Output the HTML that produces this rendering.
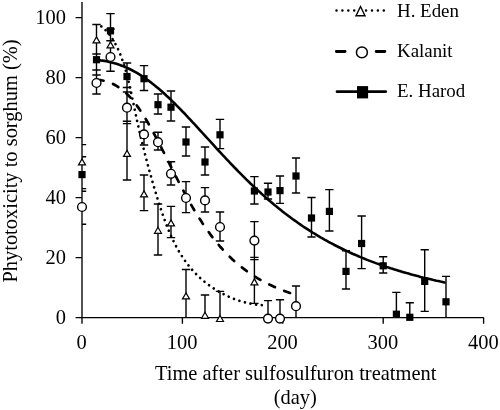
<!DOCTYPE html>
<html lang="en"><head><meta charset="utf-8"><title>Phytotoxicity to sorghum</title>
<style>html,body{margin:0;padding:0;background:#fff}svg{display:block}</style></head>
<body>
<svg width="500" height="410" viewBox="0 0 500 410">
<rect width="500" height="410" fill="#fff"/>
<path d="M96.5,59.9 L98.5,60.1 L100.5,60.4 L102.5,60.6 L104.5,60.9 L106.5,61.3 L108.5,61.7 L110.5,62.2 L112.5,62.7 L114.5,63.2 L116.5,63.8 L118.5,64.4 L120.5,65.2 L122.5,65.9 L124.5,66.7 L126.5,67.6 L128.5,68.5 L130.5,69.5 L132.5,70.5 L134.5,71.6 L136.5,72.7 L138.5,73.9 L140.5,75.1 L142.5,76.4 L144.5,77.8 L146.5,79.2 L148.5,80.6 L150.5,82.1 L152.5,83.7 L154.5,85.2 L156.5,86.9 L158.5,88.6 L160.5,90.3 L162.5,92.0 L164.5,93.8 L166.5,95.7 L168.5,97.5 L170.5,99.4 L172.5,101.4 L174.5,103.3 L176.5,105.3 L178.5,107.3 L180.5,109.4 L182.5,111.5 L184.5,113.5 L186.5,115.7 L188.5,117.8 L190.5,119.9 L192.5,122.1 L194.5,124.2 L196.5,126.4 L198.5,128.6 L200.5,130.8 L202.5,133.0 L204.5,135.2 L206.5,137.3 L208.5,139.5 L210.5,141.7 L212.5,143.9 L214.5,146.1 L216.5,148.3 L218.5,150.5 L220.5,152.6 L222.5,154.8 L224.5,156.9 L226.5,159.1 L228.5,161.2 L230.5,163.3 L232.5,165.4 L234.5,167.5 L236.5,169.5 L238.5,171.6 L240.5,173.6 L242.5,175.6 L244.5,177.6 L246.5,179.6 L248.5,181.5 L250.5,183.5 L252.5,185.4 L254.5,187.3 L256.5,189.1 L258.5,191.0 L260.5,192.8 L262.5,194.6 L264.5,196.4 L266.5,198.2 L268.5,199.9 L270.5,201.6 L272.5,203.3 L274.5,205.0 L276.5,206.6 L278.5,208.2 L280.5,209.8 L282.5,211.4 L284.5,213.0 L286.5,214.5 L288.5,216.0 L290.5,217.5 L292.5,219.0 L294.5,220.4 L296.5,221.8 L298.5,223.2 L300.5,224.6 L302.5,226.0 L304.5,227.3 L306.5,228.6 L308.5,229.9 L310.5,231.2 L312.5,232.5 L314.5,233.7 L316.5,234.9 L318.5,236.1 L320.5,237.3 L322.5,238.4 L324.5,239.6 L326.5,240.7 L328.5,241.8 L330.5,242.9 L332.5,243.9 L334.5,245.0 L336.5,246.0 L338.5,247.0 L340.5,248.0 L342.5,249.0 L344.5,250.0 L346.5,250.9 L348.5,251.8 L350.5,252.8 L352.5,253.7 L354.5,254.5 L356.5,255.4 L358.5,256.3 L360.5,257.1 L362.5,257.9 L364.5,258.8 L366.5,259.6 L368.5,260.4 L370.5,261.1 L372.5,261.9 L374.5,262.6 L376.5,263.4 L378.5,264.1 L380.5,264.8 L382.5,265.5 L384.5,266.2 L386.5,266.9 L388.5,267.5 L390.5,268.2 L392.5,268.8 L394.5,269.5 L396.5,270.1 L398.5,270.7 L400.5,271.3 L402.5,271.9 L404.5,272.5 L406.5,273.1 L408.5,273.6 L410.5,274.2 L412.5,274.8 L414.5,275.3 L416.5,275.8 L418.5,276.3 L420.5,276.9 L422.5,277.4 L424.5,277.9 L426.5,278.3 L428.5,278.8 L430.5,279.3 L432.5,279.8 L434.5,280.2 L436.5,280.7 L438.5,281.1 L440.5,281.6 L442.5,282.0 L444.5,282.4" fill="none" stroke="#000" stroke-width="2.6" stroke-linecap="round"/>
<path d="M96.5,79.6 L98.5,79.9 L100.5,80.1 L102.5,80.5 L104.5,80.9 L106.5,81.5 L108.5,82.1 L110.5,82.9 L112.5,83.7 L114.5,84.7 L116.5,85.8 L118.5,87.1 L120.5,88.5 L122.5,90.0 L124.5,91.7 L126.5,93.5 L128.5,95.5 L130.5,97.7 L132.5,100.0 L134.5,102.5 L136.5,105.1 L138.5,107.9 L140.5,110.8 L142.5,113.8 L144.5,117.0 L146.5,120.3 L148.5,123.7 L150.5,127.3 L152.5,130.9 L154.5,134.6 L156.5,138.3 L158.5,142.2 L160.5,146.0 L162.5,150.0 L164.5,153.9 L166.5,157.9 L168.5,161.8 L170.5,165.8 L172.5,169.8 L174.5,173.7 L176.5,177.6 L178.5,181.5 L180.5,185.3 L182.5,189.1 L184.5,192.8 L186.5,196.5 L188.5,200.1 L190.5,203.6 L192.5,207.1 L194.5,210.5 L196.5,213.8 L198.5,217.0 L200.5,220.1 L202.5,223.2 L204.5,226.1 L206.5,229.0 L208.5,231.8 L210.5,234.6 L212.5,237.2 L214.5,239.8 L216.5,242.2 L218.5,244.6 L220.5,247.0 L222.5,249.2 L224.5,251.4 L226.5,253.5 L228.5,255.5 L230.5,257.5 L232.5,259.4 L234.5,261.2 L236.5,263.0 L238.5,264.7 L240.5,266.3 L242.5,267.9 L244.5,269.4 L246.5,270.9 L248.5,272.3 L250.5,273.7 L252.5,275.1 L254.5,276.3 L256.5,277.6 L258.5,278.8 L260.5,279.9 L262.5,281.0 L264.5,282.1 L266.5,283.1 L268.5,284.1 L270.5,285.1 L272.5,286.0 L274.5,286.9 L276.5,287.8 L278.5,288.6 L280.5,289.5 L282.5,290.2 L284.5,291.0 L286.5,291.7 L288.5,292.4 L290.5,293.1 L292.5,293.8" fill="none" stroke="#000" stroke-width="2.7" stroke-linecap="round" stroke-dasharray="6.2 10.0" stroke-dashoffset="15.26"/>
<path d="M97.2,23.4 L99.4,24.9 L101.4,26.4 L103.3,27.9 L105.0,29.6 L106.7,31.4 L108.3,33.2 L109.9,35.1 L111.3,37.1 L112.6,39.1 L113.9,41.2 L115.1,43.4 L116.3,45.5 L117.4,47.8 L118.4,50.0 L119.4,52.3 L120.4,54.6 L121.3,56.9 L122.1,59.3 L122.9,61.6 L123.7,64.0 L124.5,66.4 L125.2,68.8 L125.9,71.2 L126.6,73.6 L127.3,76.1 L127.9,78.5 L128.5,81.0 L129.1,83.4 L129.6,85.9 L130.2,88.3 L130.7,90.8 L131.3,93.3 L131.8,95.8 L132.3,98.3 L132.8,100.7 L133.4,103.2 L133.9,105.7 L134.4,108.2 L134.9,110.7 L135.4,113.1 L136.0,115.6 L136.5,118.1 L137.0,120.5 L137.6,123.0 L138.1,125.4 L138.7,127.9 L139.2,130.3 L139.8,132.7 L140.4,135.2 L140.9,137.6 L141.5,140.0 L142.1,142.5 L142.7,144.9 L143.3,147.3 L143.9,149.7 L144.5,152.2 L145.1,154.6 L145.7,157.0 L146.4,159.4 L147.0,161.8 L147.6,164.2 L148.3,166.7 L148.9,169.1 L149.6,171.5 L150.3,173.9 L151.0,176.3 L151.6,178.7 L152.3,181.1 L153.0,183.5 L153.7,185.9 L154.4,188.4 L155.1,190.8 L155.9,193.2 L156.6,195.6 L157.3,198.0 L158.1,200.4 L158.8,202.8 L159.6,205.2 L160.4,207.6 L161.2,210.1 L162.0,212.5 L162.8,214.9 L163.6,217.2 L164.5,219.6 L165.4,222.0 L166.3,224.4 L167.2,226.7 L168.1,229.1 L169.1,231.4 L170.1,233.7 L171.1,236.0 L172.1,238.3 L173.2,240.5 L174.3,242.8 L175.4,245.0 L176.6,247.2 L177.8,249.4 L179.0,251.5 L180.3,253.6 L181.6,255.7 L183.0,257.8 L184.4,259.9 L185.8,261.9 L187.3,263.9 L188.8,265.8 L190.4,267.7 L192.0,269.6 L193.6,271.5 L195.4,273.3 L197.1,275.1 L198.9,276.8 L200.8,278.5 L202.7,280.2 L204.6,281.8 L206.6,283.3 L208.6,284.9 L210.6,286.3 L212.7,287.8 L214.8,289.2 L217.0,290.5 L219.1,291.8 L221.3,293.0 L223.6,294.2 L225.8,295.4 L228.1,296.4 L230.4,297.5 L232.8,298.4 L235.1,299.3 L237.5,300.2 L239.9,301.0 L242.3,301.7 L244.7,302.3 L247.1,302.9 L249.6,303.5 L252.0,303.9 L254.5,304.4 L257.0,304.7 L259.5,304.9 L262.0,305.1" fill="none" stroke="#000" stroke-width="2.7" stroke-linecap="round" stroke-dasharray="0.01 5.71" stroke-dashoffset="0.65"/>
<path d="M96.5,24.5 V94.0 M92.3,24.5 H100.7 M92.3,54.0 H100.7 M92.3,70.0 H100.7 M92.3,75.0 H100.7 M92.3,94.0 H100.7 M110.5,13.6 V71.2 M106.3,13.6 H114.7 M106.3,29.0 H114.7 M106.3,40.8 H114.7 M106.3,71.2 H114.7 M127.0,63.0 V180.0 M122.8,63.0 H131.2 M122.8,87.5 H131.2 M122.8,92.0 H131.2 M122.8,121.2 H131.2 M122.8,123.6 H131.2 M122.8,180.0 H131.2 M144.0,65.6 V90.5 M144.0,122.0 V145.0 M144.0,175.0 V210.6 M139.8,65.6 H148.2 M139.8,90.5 H148.2 M139.8,122.0 H148.2 M139.8,145.0 H148.2 M139.8,175.0 H148.2 M139.8,210.6 H148.2 M158.0,94.0 V114.0 M158.0,132.2 V150.0 M158.0,204.0 V255.0 M153.8,94.0 H162.2 M153.8,114.0 H162.2 M153.8,132.2 H162.2 M153.8,150.0 H162.2 M153.8,204.0 H162.2 M153.8,255.0 H162.2 M171.0,91.0 V121.0 M171.0,161.8 V185.0 M171.0,206.4 V237.6 M166.8,91.0 H175.2 M166.8,121.0 H175.2 M166.8,161.8 H175.2 M166.8,185.0 H175.2 M166.8,206.4 H175.2 M166.8,237.6 H175.2 M186.0,127.0 V156.0 M186.0,181.6 V212.6 M186.0,269.5 V317.6 M181.8,127.0 H190.2 M181.8,156.0 H190.2 M181.8,181.6 H190.2 M181.8,212.6 H190.2 M181.8,269.5 H190.2 M205.0,147.0 V175.0 M205.0,187.6 V212.0 M205.0,295.0 V317.6 M200.8,147.0 H209.2 M200.8,175.0 H209.2 M200.8,187.6 H209.2 M200.8,212.0 H209.2 M200.8,295.0 H209.2 M220.0,119.4 V148.6 M220.0,212.0 V241.0 M220.0,291.4 V317.6 M215.8,119.4 H224.2 M215.8,148.6 H224.2 M215.8,212.0 H224.2 M215.8,241.0 H224.2 M215.8,291.4 H224.2 M254.4,176.6 V204.0 M254.4,221.6 V303.4 M250.2,176.6 H258.6 M250.2,204.0 H258.6 M250.2,221.6 H258.6 M250.2,257.4 H258.6 M250.2,259.6 H258.6 M250.2,303.4 H258.6 M268.0,183.3 V199.0 M268.0,300.6 V317.6 M263.9,183.3 H272.1 M263.9,199.0 H272.1 M263.9,300.6 H272.1 M280.0,176.0 V203.4 M280.0,299.8 V317.6 M275.9,176.0 H284.1 M275.9,203.4 H284.1 M275.9,299.8 H284.1 M296.0,158.0 V193.0 M296.0,286.0 V317.6 M291.9,158.0 H300.1 M291.9,193.0 H300.1 M291.9,286.0 H300.1 M311.5,197.5 V237.0 M307.4,197.5 H315.6 M307.4,237.0 H315.6 M329.4,189.6 V231.0 M325.2,189.6 H333.5 M325.2,231.0 H333.5 M346.0,250.8 V289.0 M341.9,250.8 H350.1 M341.9,289.0 H350.1 M361.6,216.0 V268.6 M357.5,216.0 H365.8 M357.5,268.6 H365.8 M383.2,256.7 V273.0 M379.1,256.7 H387.3 M379.1,273.0 H387.3 M396.4,292.4 V317.6 M392.2,292.4 H400.5 M409.8,302.7 V317.6 M405.7,302.7 H413.9 M424.7,249.8 V311.4 M420.6,249.8 H428.8 M420.6,311.4 H428.8 M446.0,276.4 V317.6 M441.9,276.4 H450.1 M82,144.6 H86.2 M82,156.7 H86.2 M82,188.6 H86.2 M82,191.3 H86.2 M82,224.3 H86.2" fill="none" stroke="#000" stroke-width="1.4"/>
<path d="M82.0,2 V317.6 H483.7 M75.6,317.6 H82.0 M75.6,257.6 H82.0 M75.6,197.6 H82.0 M75.6,137.6 H82.0 M75.6,77.6 H82.0 M75.6,17.6 H82.0 M82.0,317.6 V323.8 M182.4,317.6 V323.8 M282.8,317.6 V323.8 M383.2,317.6 V323.8 M483.6,317.6 V323.8" fill="none" stroke="#000" stroke-width="1.35"/>
<path d="M96.5,36.9 L100.0,42.9 L93.0,42.9 Z" fill="#fff" stroke="#000" stroke-width="1.2" stroke-linejoin="miter"/>
<rect x="92.9" y="56.1" width="7.2" height="7.2" fill="#000"/>
<circle cx="96.5" cy="83.0" r="4.4" fill="#fff" stroke="#000" stroke-width="1.4"/>
<rect x="106.9" y="27.2" width="7.2" height="7.2" fill="#000"/>
<path d="M110.5,41.9 L114.0,47.9 L107.0,47.9 Z" fill="#fff" stroke="#000" stroke-width="1.2" stroke-linejoin="miter"/>
<circle cx="110.5" cy="57.0" r="4.4" fill="#fff" stroke="#000" stroke-width="1.4"/>
<rect x="123.4" y="72.9" width="7.2" height="7.2" fill="#000"/>
<circle cx="127.0" cy="107.7" r="4.4" fill="#fff" stroke="#000" stroke-width="1.4"/>
<path d="M127.0,150.4 L130.5,156.4 L123.5,156.4 Z" fill="#fff" stroke="#000" stroke-width="1.2" stroke-linejoin="miter"/>
<rect x="140.4" y="75.1" width="7.2" height="7.2" fill="#000"/>
<circle cx="144.0" cy="134.4" r="4.4" fill="#fff" stroke="#000" stroke-width="1.4"/>
<path d="M144.0,190.9 L147.5,196.9 L140.5,196.9 Z" fill="#fff" stroke="#000" stroke-width="1.2" stroke-linejoin="miter"/>
<rect x="154.4" y="101.1" width="7.2" height="7.2" fill="#000"/>
<circle cx="158.0" cy="142.2" r="4.4" fill="#fff" stroke="#000" stroke-width="1.4"/>
<path d="M158.0,227.3 L161.5,233.3 L154.5,233.3 Z" fill="#fff" stroke="#000" stroke-width="1.2" stroke-linejoin="miter"/>
<rect x="167.4" y="103.6" width="7.2" height="7.2" fill="#000"/>
<circle cx="171.0" cy="173.8" r="4.4" fill="#fff" stroke="#000" stroke-width="1.4"/>
<path d="M171.0,219.9 L174.5,225.9 L167.5,225.9 Z" fill="#fff" stroke="#000" stroke-width="1.2" stroke-linejoin="miter"/>
<rect x="182.4" y="138.4" width="7.2" height="7.2" fill="#000"/>
<circle cx="186.0" cy="198.0" r="4.4" fill="#fff" stroke="#000" stroke-width="1.4"/>
<path d="M186.0,292.9 L189.5,298.9 L182.5,298.9 Z" fill="#fff" stroke="#000" stroke-width="1.2" stroke-linejoin="miter"/>
<rect x="201.4" y="158.4" width="7.2" height="7.2" fill="#000"/>
<circle cx="205.0" cy="200.4" r="4.4" fill="#fff" stroke="#000" stroke-width="1.4"/>
<path d="M205.0,312.3 L208.5,318.3 L201.5,318.3 Z" fill="#fff" stroke="#000" stroke-width="1.2" stroke-linejoin="miter"/>
<rect x="216.4" y="131.2" width="7.2" height="7.2" fill="#000"/>
<circle cx="220.0" cy="227.0" r="4.4" fill="#fff" stroke="#000" stroke-width="1.4"/>
<path d="M220.0,315.5 L223.5,321.5 L216.5,321.5 Z" fill="#fff" stroke="#000" stroke-width="1.2" stroke-linejoin="miter"/>
<rect x="250.8" y="187.4" width="7.2" height="7.2" fill="#000"/>
<circle cx="254.4" cy="240.6" r="4.4" fill="#fff" stroke="#000" stroke-width="1.4"/>
<path d="M254.4,278.9 L257.9,284.9 L250.9,284.9 Z" fill="#fff" stroke="#000" stroke-width="1.2" stroke-linejoin="miter"/>
<rect x="264.4" y="188.4" width="7.2" height="7.2" fill="#000"/>
<circle cx="268.0" cy="318.6" r="4.4" fill="#fff" stroke="#000" stroke-width="1.4"/>
<rect x="276.4" y="187.0" width="7.2" height="7.2" fill="#000"/>
<circle cx="280.0" cy="318.6" r="4.4" fill="#fff" stroke="#000" stroke-width="1.4"/>
<rect x="292.4" y="172.4" width="7.2" height="7.2" fill="#000"/>
<circle cx="296.0" cy="306.2" r="4.4" fill="#fff" stroke="#000" stroke-width="1.4"/>
<rect x="307.9" y="214.4" width="7.2" height="7.2" fill="#000"/>
<rect x="325.8" y="207.8" width="7.2" height="7.2" fill="#000"/>
<rect x="342.4" y="267.8" width="7.2" height="7.2" fill="#000"/>
<rect x="358.0" y="239.9" width="7.2" height="7.2" fill="#000"/>
<rect x="379.6" y="262.2" width="7.2" height="7.2" fill="#000"/>
<rect x="392.8" y="310.6" width="7.2" height="7.2" fill="#000"/>
<rect x="406.2" y="313.7" width="7.2" height="7.2" fill="#000"/>
<rect x="421.1" y="277.8" width="7.2" height="7.2" fill="#000"/>
<rect x="442.4" y="298.2" width="7.2" height="7.2" fill="#000"/>
<path d="M82.0,158.9 L85.5,164.9 L78.5,164.9 Z" fill="#fff" stroke="#000" stroke-width="1.2" stroke-linejoin="miter"/>
<rect x="78.4" y="171.0" width="7.2" height="7.2" fill="#000"/>
<circle cx="82.0" cy="207.0" r="4.4" fill="#fff" stroke="#000" stroke-width="1.4"/>
<text x="66" y="324.2" text-anchor="end" font-family="Liberation Serif, Times New Roman, serif" font-size="20.45px" fill="#000">0</text>
<text x="66" y="264.2" text-anchor="end" font-family="Liberation Serif, Times New Roman, serif" font-size="20.45px" fill="#000">20</text>
<text x="66" y="204.2" text-anchor="end" font-family="Liberation Serif, Times New Roman, serif" font-size="20.45px" fill="#000">40</text>
<text x="66" y="144.2" text-anchor="end" font-family="Liberation Serif, Times New Roman, serif" font-size="20.45px" fill="#000">60</text>
<text x="66" y="84.2" text-anchor="end" font-family="Liberation Serif, Times New Roman, serif" font-size="20.45px" fill="#000">80</text>
<text x="66" y="24.2" text-anchor="end" font-family="Liberation Serif, Times New Roman, serif" font-size="20.45px" fill="#000">100</text>
<text x="81.7" y="348.8" text-anchor="middle" font-family="Liberation Serif, Times New Roman, serif" font-size="20.45px" fill="#000">0</text>
<text x="182.1" y="348.8" text-anchor="middle" font-family="Liberation Serif, Times New Roman, serif" font-size="20.45px" fill="#000">100</text>
<text x="282.5" y="348.8" text-anchor="middle" font-family="Liberation Serif, Times New Roman, serif" font-size="20.45px" fill="#000">200</text>
<text x="382.9" y="348.8" text-anchor="middle" font-family="Liberation Serif, Times New Roman, serif" font-size="20.45px" fill="#000">300</text>
<text x="483.3" y="348.8" text-anchor="middle" font-family="Liberation Serif, Times New Roman, serif" font-size="20.45px" fill="#000">400</text>
<text x="295.7" y="380.0" text-anchor="middle" font-family="Liberation Serif, Times New Roman, serif" font-size="20.45px" fill="#000">Time after sulfosulfuron treatment</text>
<text x="295.2" y="403.6" text-anchor="middle" font-family="Liberation Serif, Times New Roman, serif" font-size="20.45px" fill="#000">(day)</text>
<text transform="translate(16.7,161) rotate(-90)" text-anchor="middle" font-family="Liberation Serif, Times New Roman, serif" font-size="20.45px" fill="#000">Phytotoxicity to sorghum (%)</text>
<path d="M336.5,10.6 H384.5" fill="none" stroke="#000" stroke-width="2.5" stroke-linecap="round" stroke-dasharray="0.01 5.9"/>
<path d="M360.5,6.5 L365.0,15.7 L356.0,15.7 Z" fill="#fff" stroke="#000" stroke-width="1.4" stroke-linejoin="miter"/>
<path d="M336.3,51.5 H345.1 M376.2,51.5 H384.9" fill="none" stroke="#000" stroke-width="2.8" stroke-linecap="round"/>
<circle cx="361.9" cy="52.4" r="5.45" fill="#fff" stroke="#000" stroke-width="1.5"/>
<path d="M337.0,91.7 H385.7" fill="none" stroke="#000" stroke-width="2.7" stroke-linecap="round"/>
<rect x="357.0" y="86.1" width="11.1" height="12.3" fill="#000"/>
<text x="397.0" y="17.3" font-family="Liberation Serif, Times New Roman, serif" font-size="18.9px" fill="#000">H. Eden</text>
<text x="397.0" y="57.3" font-family="Liberation Serif, Times New Roman, serif" font-size="18.9px" fill="#000">Kalanit</text>
<text x="397.0" y="97.2" font-family="Liberation Serif, Times New Roman, serif" font-size="18.9px" fill="#000">E. Harod</text>
</svg>
</body></html>
